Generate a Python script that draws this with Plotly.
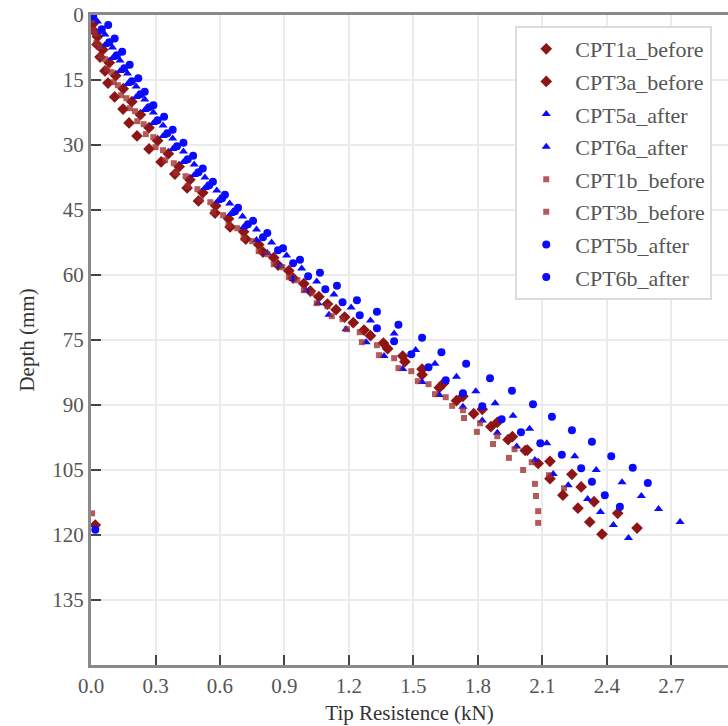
import plotly.graph_objects as go

# Cone penetration test profiles: tip resistance (kN) against depth (mm)
cpt1a_before_depth = [0.8, 3.8, 6.8, 9.7, 12.9, 15.7, 18.9, 21.7, 24.9, 27.9, 30.9, 33.9, 36.7, 39.9, 42.9, 45.7, 48.9, 51.7, 54.7, 57.7,
                      60.7, 63.7, 66.7, 69.7, 72.7, 75.7, 78.7, 81.7, 85.0, 88.0, 91.0, 94.0, 97.3, 100.4, 103.5, 107.0, 110.8, 113.8, 117.0, 119.8]
cpt1a_before_tip = [0.005, 0.015, 0.028, 0.042, 0.065, 0.079, 0.11, 0.149, 0.177, 0.214, 0.27, 0.326, 0.39, 0.447, 0.50, 0.577, 0.647, 0.72, 0.80, 0.87,
                    0.94, 1.02, 1.10, 1.18, 1.27, 1.36, 1.45, 1.54, 1.64, 1.73, 1.82, 1.89, 1.96, 2.03, 2.08, 2.135, 2.195, 2.265, 2.32, 2.377]

cpt3a_before_depth = [2.0, 5.0, 8.0, 11.0, 14.0, 17.0, 20.0, 23.0, 26.0, 29.0, 32.0, 35.0, 38.0, 41.0, 44.0, 47.0, 50.0, 53.0, 56.0, 59.0,
                      62.0, 65.0, 68.0, 71.0, 74.0, 77.0, 80.0, 83.0, 86.0, 89.0, 92.0, 95.0, 98.0, 100.5, 103.0, 106.0, 108.9, 112.3, 115.0, 118.4, 117.7]
cpt3a_before_tip = [0.01, 0.03, 0.055, 0.085, 0.115, 0.15, 0.19, 0.23, 0.27, 0.31, 0.36, 0.41, 0.46, 0.52, 0.58, 0.64, 0.71, 0.78, 0.85, 0.92,
                    0.99, 1.06, 1.14, 1.22, 1.30, 1.38, 1.46, 1.54, 1.62, 1.70, 1.78, 1.86, 1.94, 2.02, 2.135, 2.237, 2.28, 2.34, 2.45, 2.54, 0.02]

cpt5a_after_depth = [1.5, 4.5, 7.5, 10.5, 13.5, 16.5, 19.5, 22.5, 25.5, 28.5, 31.5, 34.5, 37.5, 40.5, 43.5, 46.5, 49.5, 52.5, 55.5, 58.5,
                     61.5, 64.5, 67.5, 70.5, 73.5, 77.3, 80.5, 83.5, 86.8, 89.6, 92.5, 95.5, 98.8, 101.8, 105.0, 107.8, 111.0, 114.0, 117.0]
cpt5a_after_tip = [0.03, 0.065, 0.10, 0.135, 0.17, 0.21, 0.25, 0.29, 0.335, 0.38, 0.43, 0.48, 0.53, 0.585, 0.645, 0.705, 0.77, 0.84, 0.91, 0.98,
                   1.05, 1.13, 1.21, 1.30, 1.41, 1.51, 1.60, 1.70, 1.79, 1.88, 1.963, 2.04, 2.12, 2.25, 2.35, 2.47, 2.56, 2.64, 2.74]

cpt6a_after_depth = [0.9, 3.9, 6.9, 9.9, 12.9, 15.9, 18.9, 21.9, 24.9, 27.9, 30.9, 33.9, 36.9, 39.9, 42.9, 45.9, 48.9, 51.9, 54.9, 57.9,
                     60.9, 63.6, 66.5, 69.2, 72.5, 75.5, 78.7, 81.7, 84.7, 87.7, 90.4, 93.6, 96.4, 99.6, 102.7, 105.9, 108.5, 111.7, 114.7, 117.7, 120.7]
cpt6a_after_tip = [0.01, 0.035, 0.065, 0.10, 0.135, 0.17, 0.21, 0.25, 0.29, 0.335, 0.38, 0.43, 0.48, 0.53, 0.59, 0.65, 0.71, 0.77, 0.82, 0.88,
                   0.94, 1.00, 1.056, 1.107, 1.186, 1.28, 1.363, 1.45, 1.54, 1.62, 1.73, 1.82, 1.89, 1.98, 2.065, 2.15, 2.22, 2.31, 2.37, 2.43, 2.50]

cpt1b_before_depth = [0.5, 3.5, 6.5, 9.5, 12.5, 15.5, 18.5, 21.5, 24.5, 27.5, 30.5, 33.5, 36.5, 39.5, 42.5, 45.5, 48.5, 51.5, 54.5, 57.5,
                      60.5, 63.5, 66.5, 69.5, 72.5, 75.5, 78.5, 81.5, 84.5, 87.5, 90.2, 93.0, 96.2, 99.0, 102.2, 105.0, 108.2, 111.0, 114.5, 117.2]
cpt1b_before_tip = [0.002, 0.01, 0.025, 0.045, 0.075, 0.105, 0.14, 0.18, 0.215, 0.255, 0.30, 0.345, 0.395, 0.45, 0.51, 0.57, 0.64, 0.71, 0.78, 0.85,
                    0.92, 0.99, 1.05, 1.12, 1.19, 1.26, 1.34, 1.43, 1.52, 1.60, 1.68, 1.735, 1.795, 1.87, 1.944, 2.01, 2.065, 2.07, 2.08, 2.08]

cpt3b_before_depth = [1.2, 4.2, 7.2, 10.2, 13.2, 16.2, 19.2, 22.2, 25.2, 28.2, 31.2, 34.2, 37.2, 40.2, 43.2, 46.2, 49.2, 52.2, 55.2, 58.2,
                      61.2, 64.2, 67.2, 70.2, 73.2, 76.2, 79.2, 82.2, 85.2, 88.2, 91.2, 94.2, 97.2, 100.2, 103.2, 106.2, 109.2, 115.0]
cpt3b_before_tip = [0.005, 0.02, 0.04, 0.065, 0.095, 0.125, 0.165, 0.205, 0.245, 0.29, 0.335, 0.385, 0.44, 0.495, 0.555, 0.615, 0.68, 0.75, 0.82, 0.89,
                    0.96, 1.03, 1.10, 1.17, 1.25, 1.33, 1.41, 1.49, 1.57, 1.65, 1.73, 1.81, 1.89, 1.97, 2.05, 2.13, 2.20, 0.005]

cpt5b_after_depth = [2.3, 5.4, 8.5, 11.5, 14.6, 17.7, 20.8, 23.5, 26.5, 29.5, 32.5, 35.4, 38.5, 41.5, 44.5, 47.5, 50.3, 53.8, 56.5, 59.5,
                     62.5, 65.8, 68.5, 71.5, 74.5, 77.8, 80.5, 83.8, 86.7, 89.8, 92.7, 95.8, 98.5, 101.8, 104.5, 108.0]
cpt5b_after_tip = [0.08, 0.11, 0.145, 0.18, 0.22, 0.25, 0.29, 0.34, 0.38, 0.43, 0.475, 0.52, 0.567, 0.623, 0.684, 0.754, 0.82, 0.893, 0.972, 1.065,
                   1.144, 1.237, 1.33, 1.43, 1.54, 1.63, 1.745, 1.856, 1.958, 2.056, 2.144, 2.237, 2.33, 2.42, 2.52, 2.59]

cpt6b_after_depth = [0.3, 3.3, 6.3, 9.3, 12.3, 15.3, 18.3, 21.3, 24.3, 27.3, 30.3, 33.3, 36.3, 39.3, 42.3, 45.3, 48.3, 51.3, 54.3, 57.3,
                     60.3, 63.3, 66.3, 69.3, 72.3, 75.3, 78.3, 81.3, 84.3, 87.3, 90.3, 93.3, 96.3, 98.8, 101.5, 104.6, 107.7, 110.8, 113.5, 118.8]
cpt6b_after_tip = [0.01, 0.05, 0.085, 0.12, 0.155, 0.19, 0.23, 0.27, 0.31, 0.355, 0.40, 0.45, 0.50, 0.55, 0.61, 0.67, 0.73, 0.80, 0.87, 0.94,
                   1.01, 1.09, 1.17, 1.25, 1.33, 1.41, 1.49, 1.57, 1.65, 1.73, 1.82, 1.91, 2.00, 2.09, 2.19, 2.28, 2.33, 2.39, 2.46, 0.02]

x_ticks = [0.0, 0.3, 0.6, 0.9, 1.2, 1.5, 1.8, 2.1, 2.4, 2.7]
y_ticks = [0, 15, 30, 45, 60, 75, 90, 105, 120, 135]

RED = "#8e1515"
SQ_RED = "rgba(158,45,45,0.78)"
BLUE = "#0a0aff"

series = [
    ("CPT1a_before", cpt1a_before_tip, cpt1a_before_depth, "diamond", 9, RED),
    ("CPT3a_before", cpt3a_before_tip, cpt3a_before_depth, "diamond", 9, RED),
    ("CPT5a_after", cpt5a_after_tip, cpt5a_after_depth, "triangle-up", 8, BLUE),
    ("CPT6a_after", cpt6a_after_tip, cpt6a_after_depth, "triangle-up", 8, BLUE),
    ("CPT1b_before", cpt1b_before_tip, cpt1b_before_depth, "square", 6, SQ_RED),
    ("CPT3b_before", cpt3b_before_tip, cpt3b_before_depth, "square", 6, SQ_RED),
    ("CPT5b_after", cpt5b_after_tip, cpt5b_after_depth, "circle", 8, BLUE),
    ("CPT6b_after", cpt6b_after_tip, cpt6b_after_depth, "circle", 8, BLUE),
]

fig = go.Figure()
for i, (name, tip, depth, symbol, size, color) in enumerate(series):
    fig.add_trace(go.Scatter(
        x=tip, y=depth, mode="markers", name=name, legendgroup=f"g{i}",
        marker=dict(symbol=symbol, size=size, color=color, line=dict(width=0)),
    ))

FONT = "Liberation Serif"
AXIS_GRAY = "#8a8a8a"

fig.update_layout(
    width=728, height=726,
    margin=dict(l=91, r=0, t=15, b=61),
    paper_bgcolor="white", plot_bgcolor="white",
    font=dict(family=FONT, size=21, color="#555555"),
    legend=dict(
        x=0.666, y=0.983, xanchor="left", yanchor="top",
        bgcolor="white", bordercolor="#dcdcdc", borderwidth=2,
        font=dict(family=FONT, size=22, color="#555555"),
        tracegroupgap=1, itemwidth=48,
    ),
    xaxis=dict(
        range=[0, 2.963], tickvals=x_ticks, ticktext=[f"{v:.1f}" for v in x_ticks],
        showgrid=True, gridcolor="#ebebeb", gridwidth=2,
        showline=True, linecolor=AXIS_GRAY, linewidth=3, mirror=True,
        ticks="inside", ticklen=10, tickwidth=2, tickcolor="#444444",
        zeroline=False, tickfont=dict(family=FONT, size=21, color="#555555"),
        title=dict(text="Tip Resistence (kN)", font=dict(family=FONT, size=21, color="#333333"), standoff=9),
    ),
    yaxis=dict(
        range=[150, 0], tickvals=y_ticks,
        showgrid=True, gridcolor="#ebebeb", gridwidth=2,
        showline=True, linecolor=AXIS_GRAY, linewidth=3, mirror=False,
        ticks="inside", ticklen=10, tickwidth=2, tickcolor="#444444",
        zeroline=False, tickfont=dict(family=FONT, size=21, color="#555555"),
        title=dict(text="Depth (mm)", font=dict(family=FONT, size=21, color="#333333"), standoff=12),
    ),
)

fig.write_html("out.html")
